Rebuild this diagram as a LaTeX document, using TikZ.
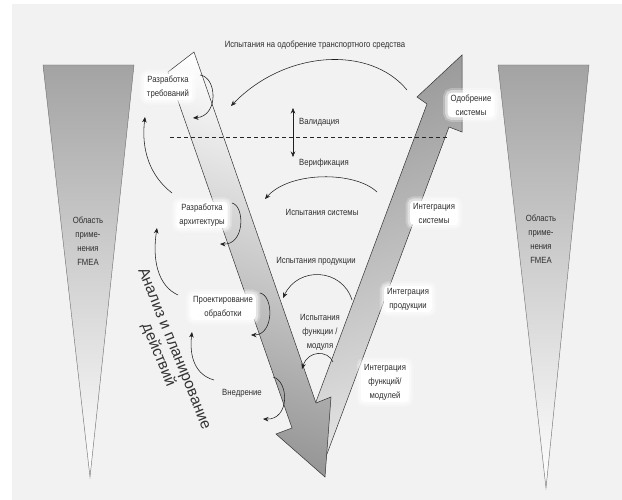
\documentclass[tikz,border=0pt]{standalone}
\usepackage{fontspec}
\setmainfont{Liberation Sans}[FakeStretch=0.86]
\newfontfamily\plainsans{Liberation Sans}
\usetikzlibrary{arrows.meta}
\begin{document}
\begin{tikzpicture}[x=1pt,y=-1pt,
  lbl/.style={font=\fontsize{9}{14}\selectfont, text=black!82, align=center, inner sep=1pt},
  glow/.style={lbl, fill=white, rounded corners=4pt, inner xsep=3pt, inner ysep=2pt,
    preaction={draw=white, line width=9pt, opacity=0.25},
    preaction={draw=white, line width=5pt, opacity=0.45}},
  flow/.style={draw=black!88, line width=0.55pt, -{Stealth[length=5.5pt,width=4.5pt]}},
  twoway/.style={draw=black!88, line width=0.55pt, {Stealth[length=5.5pt,width=4.5pt]}-{Stealth[length=5.5pt,width=4.5pt]}},
  wedge/.style={draw=black!55, line width=0.45pt, top color=black!36, middle color=black!28, bottom color=white},
  vstroke/.style={draw=black!80, line width=0.5pt},
]
\useasboundingbox (0,0) rectangle (622,500);
\fill[white] (0,0) rectangle (622,500);
\fill[black!5] (12,4) rectangle (622,500);

% FMEA wedges
\draw[wedge] (43,65) -- (134,65) -- (90,477) -- cycle;
\draw[wedge] (498,65) -- (589,65) -- (546,488) -- cycle;
\node[lbl] (fmeaL) at (88,241) {Область\\приме-\\нения\\FMEA};
\node[lbl] (fmeaR) at (541,239) {Область\\приме-\\нения\\FMEA};

% rising arm: integration and approval
\draw[vstroke, top color=black!40, middle color=black!30, bottom color=black!10, shading angle=20]
  (298,450) -- (427,104) -- (417,97) -- (462,55) -- (462,132) -- (449,127) -- (321,470) -- cycle;

% descending arm: design
\draw[vstroke, top color=white, middle color=black!20, bottom color=black!42, shading angle=-19]
  (194,52) -- (316,403) -- (331,397) -- (325,477) -- (276,434) -- (292,428) -- (168,72) -- cycle;

% validation / verification boundary
\coordinate (dashL) at (170,137);
\coordinate (dashR) at (447,137);
\draw[black!85, line width=0.6pt, dash pattern=on 4pt off 3pt] (dashL) -- (dashR);

% labels with a white halo
\node[glow] (req)   at (168,87)  {Разработка\\требований};
\node[glow] (arch)  at (202,215) {Разработка\\архитектуры};
\node[glow] (proc)  at (223,307) {Проектирование\\обработки};
\node[glow] (sysok) at (471,105) {Одобрение\\системы};
\node[glow] (isys)  at (434,213) {Интеграция\\системы};
\node[glow] (iprod) at (408,299) {Интеграция\\продукции};
\node[glow] (ifun)  at (385,382) {Интеграция\\функций/\\модулей};

% plain labels
\node[lbl] (impl)  at (242,393) {Внедрение};
\node[lbl] (veh)   at (315,45)  {Испытания на одобрение транспортного средства};
\node[lbl, anchor=west] (valid) at (298,122) {Валидация};
\node[lbl, anchor=west] (verif) at (298,163) {Верификация};
\node[lbl] (tsys)  at (322,212) {Испытания системы};
\node[lbl] (tprod) at (316,261) {Испытания продукции};
\node[lbl] (tfun)  at (320,332) {Испытания\\функции /\\модуля};
\node[text=black!80, align=center, rotate=-68, inner sep=0pt,
      font=\plainsans\fontsize{15.5}{17}\selectfont] (plan) at (166,352)
  {Анализ и планирование\\действий};

% test arcs on the right
\coordinate (a1s) at (407,90);  \coordinate (a1e) at (231,106);
\draw[flow] (a1s) .. controls (370,45) and (285,50) .. (a1e);
\coordinate (vv1) at (293,108); \coordinate (vv2) at (293,157);
\draw[twoway] (vv1) -- (vv2);
\coordinate (a2s) at (377,192); \coordinate (a2e) at (265,199);
\draw[flow] (a2s) .. controls (355,171) and (290,171) .. (a2e);
\coordinate (a3s) at (352,300); \coordinate (a3e) at (283,298);
\draw[flow] (a3s) .. controls (342,268) and (298,266) .. (a3e);
\coordinate (a4s) at (333,362); \coordinate (a4e) at (302,369);
\draw[flow] (a4s) .. controls (328,350) and (308,350) .. (a4e);

% loops and back steps on the left
\coordinate (c1s) at (200,75);  \coordinate (c1e) at (193,118);
\draw[flow] (c1s) .. controls (217,77) and (219,116) .. (c1e);
\coordinate (b1s) at (172,193); \coordinate (b1e) at (145,117);
\draw[flow] (b1s) .. controls (150,176) and (141,150) .. (b1e);
\coordinate (c2s) at (232,203); \coordinate (c2e) at (220,244);
\draw[flow] (c2s) .. controls (245,206) and (245,245) .. (c2e);
\coordinate (b2s) at (178,295); \coordinate (b2e) at (157,228);
\draw[flow] (b2s) .. controls (158,286) and (152,260) .. (b2e);
\coordinate (c3s) at (260,293); \coordinate (c3e) at (251,335);
\draw[flow] (c3s) .. controls (274,296) and (274,335) .. (c3e);
\coordinate (b3s) at (214,380); \coordinate (b3e) at (192,332);
\draw[flow] (b3s) .. controls (196,375) and (189,358) .. (b3e);
\coordinate (c4s) at (273,377); \coordinate (c4e) at (263,419);
\draw[flow] (c4s) .. controls (289,381) and (290,420) .. (c4e);
\end{tikzpicture}
\end{document}
